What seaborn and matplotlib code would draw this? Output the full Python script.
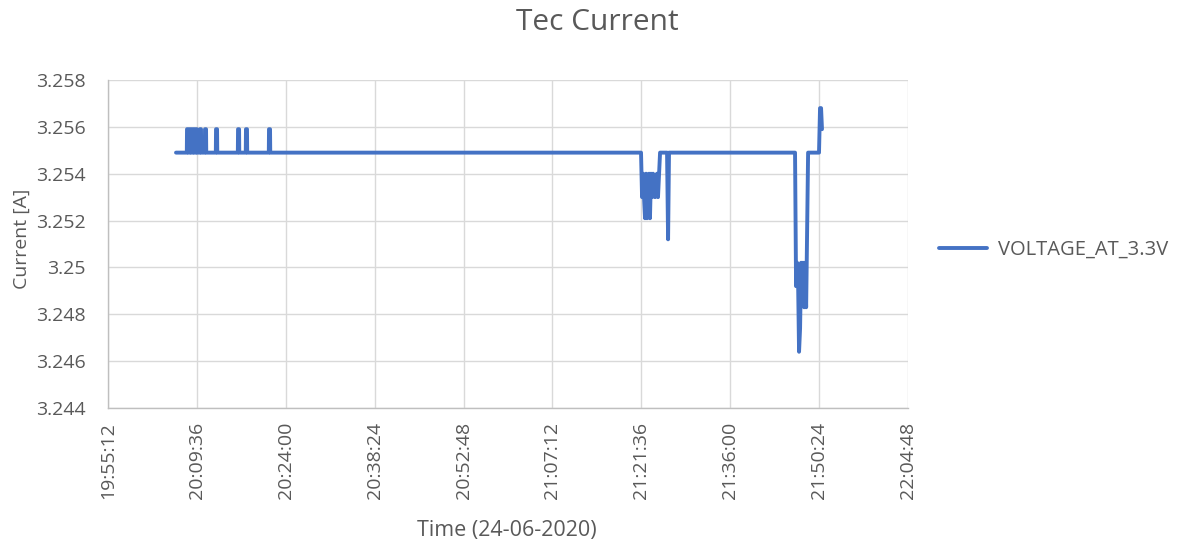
import matplotlib
matplotlib.use("Agg")
import matplotlib.pyplot as plt
import matplotlib.dates as mdates
import matplotlib.ticker as mticker
import seaborn as sns
import pandas as pd

DATE = "2020-06-24"
series_name = "VOLTAGE_AT_3.3V"

B = 3.2549
H = 3.2559

times = [
    "20:06:13",
    "20:07:58", "20:08:00", "20:08:10", "20:08:12",
    "20:08:27", "20:08:29", "20:08:39", "20:08:41",
    "20:08:56", "20:08:58", "20:09:08", "20:09:10",
    "20:09:25", "20:09:27", "20:09:37", "20:09:39",
    "20:10:04", "20:10:06", "20:10:16", "20:10:18",
    "20:10:53", "20:10:55", "20:11:05", "20:11:07",
    "20:12:40", "20:12:42", "20:12:52", "20:12:54",
    "20:16:14", "20:16:16", "20:16:26", "20:16:28",
    "20:17:31", "20:17:33", "20:17:43", "20:17:45",
    "20:21:15", "20:21:17", "20:21:27", "20:21:29",
    "21:21:33", "21:21:43", "21:21:52", "21:22:02", "21:22:12", "21:22:22",
    "21:22:31", "21:22:41", "21:22:51", "21:23:00", "21:23:10", "21:23:20",
    "21:23:30", "21:23:49", "21:24:08", "21:24:18", "21:24:38",
    "21:25:46", "21:25:56", "21:26:05",
    "21:46:30", "21:46:40", "21:46:50", "21:47:00", "21:47:09", "21:47:19",
    "21:47:29", "21:47:39", "21:47:48", "21:47:58", "21:48:08", "21:48:18",
    "21:48:37",
    "21:50:23", "21:50:33", "21:50:43", "21:50:52",
]

values = [
    B,
    B, H, H, B,
    B, H, H, B,
    B, H, H, B,
    B, H, H, B,
    B, H, H, B,
    B, H, H, B,
    B, H, H, B,
    B, H, H, B,
    B, H, H, B,
    B, H, H, B,
    B, 3.2530, 3.2540, 3.2530, 3.2521, 3.2540,
    3.2521, 3.2530, 3.2540, 3.2521, 3.2540, 3.2530,
    3.2540, 3.2530, 3.2540, 3.2530, B,
    B, 3.2512, B,
    B, 3.2492, 3.2502, 3.2493, 3.2464, 3.2474,
    3.2502, 3.2492, 3.2502, 3.2483, 3.2502, 3.2483,
    B,
    B, 3.2568, 3.2568, 3.2559,
]

y_ticks = [3.244, 3.246, 3.248, 3.25, 3.252, 3.254, 3.256, 3.258]
x_start = "19:55:12"
x_end = "22:04:48"

df = pd.DataFrame({
    "Time": pd.to_datetime([f"{DATE} {t}" for t in times]),
    "Current": values,
    "Series": series_name,
})

sns.set_theme(style="white")
plt.rcParams["font.family"] = ["Open Sans", "DejaVu Sans"]

TXT = "#595959"
fig = plt.figure(figsize=(11.79, 5.48), dpi=100)
ax = fig.add_axes([108 / 1179, 1 - 408 / 548, 800 / 1179, 328 / 548])

sns.lineplot(data=df, x="Time", y="Current", hue="Series", estimator=None,
             sort=False, palette=["#4472C4"], linewidth=2.8, ax=ax)

t0 = pd.Timestamp(f"{DATE} {x_start}")
t1 = pd.Timestamp(f"{DATE} {x_end}")
xt = pd.date_range(t0, t1, freq="864s")
ax.set_xlim(t0, t1)
ax.set_xticks(xt)
ax.xaxis.set_major_formatter(mdates.DateFormatter("%H:%M:%S"))
ax.set_ylim(y_ticks[0], y_ticks[-1])
ax.set_yticks(y_ticks)
ax.yaxis.set_major_formatter(mticker.FuncFormatter(lambda v, p: format(round(v, 3), "g")))

ax.grid(True, color="#d9d9d9", linewidth=1.0)
for s in ["top", "right"]:
    ax.spines[s].set_visible(False)
for s in ["left", "bottom"]:
    ax.spines[s].set_color("#bfbfbf")
    ax.spines[s].set_linewidth(1.0)
ax.tick_params(axis="both", length=0, colors=TXT, labelsize=14)
ax.tick_params(axis="y", pad=16)
ax.tick_params(axis="x", pad=10)
plt.setp(ax.get_xticklabels(), rotation=90)

ax.set_xlabel("Time (24-06-2020)", fontsize=15.5, color=TXT)
ax.xaxis.set_label_coords(0.499, (408 - 520) / 328)
ax.set_ylabel("Current [A]", fontsize=14, color=TXT, va="center")
ax.yaxis.set_label_coords((22 - 108) / 800, (408 - 239) / 328)

fig.suptitle("Tec Current", x=597 / 1179, y=1 - 22 / 548, va="center",
             fontsize=21.5, color=TXT)

ax.legend(loc="center left", bbox_to_anchor=((921 - 108) / 800, (408 - 250) / 328),
          frameon=False, fontsize=14.5, handlelength=2.4, handletextpad=0.5,
          labelcolor=TXT)

fig.savefig("out.png", dpi=100)
